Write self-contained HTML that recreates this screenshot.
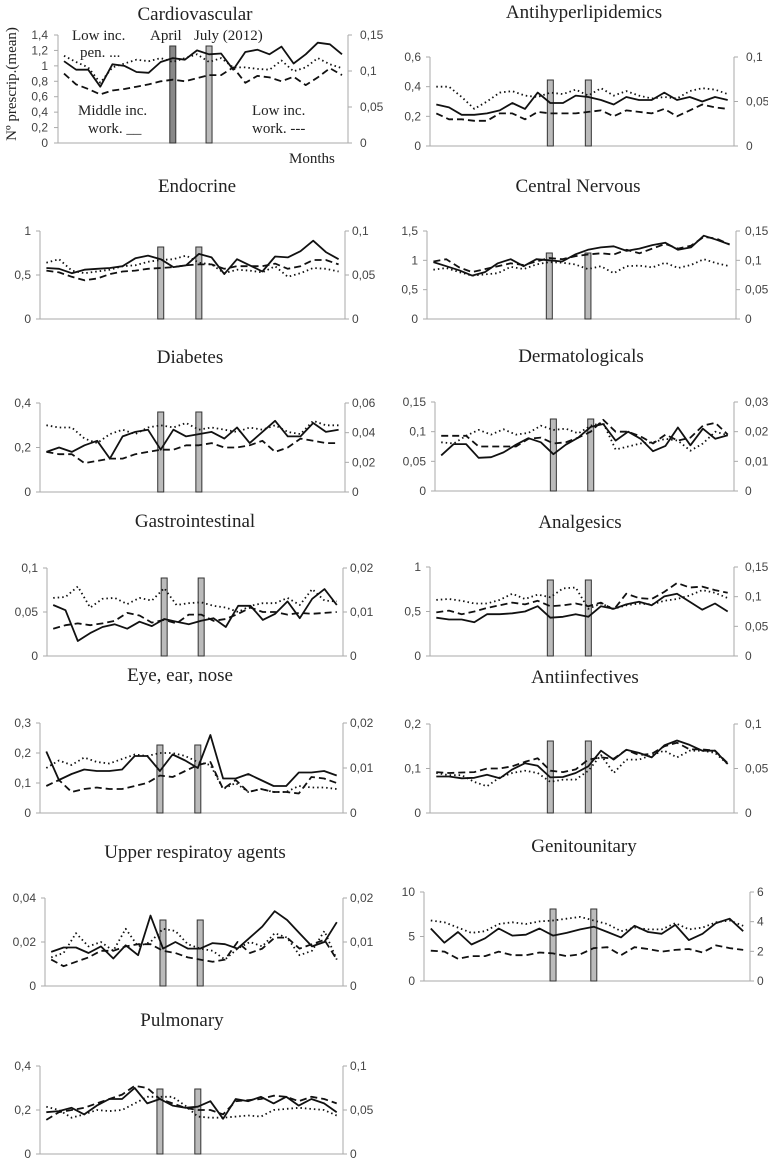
<!DOCTYPE html>
<html><head><meta charset="utf-8"><style>
html,body{margin:0;padding:0;background:#fff;}
svg{display:block;}
.t{font-family:"Liberation Serif",serif;font-size:19px;fill:#222;}
.tk{font-family:"Liberation Sans",sans-serif;font-size:12px;fill:#444;}
.an{font-family:"Liberation Serif",serif;font-size:15px;fill:#222;}
</style></head><body>
<svg id="c" width="768" height="1166" viewBox="0 0 768 1166" xmlns="http://www.w3.org/2000/svg">
<text class="an" x="72" y="40">Low inc.</text>
<text class="an" x="80" y="57">pen. ...</text>
<text class="an" x="150" y="40">April</text>
<text class="an" x="194" y="40">July (2012)</text>
<text class="an" x="78" y="115">Middle inc.</text>
<text class="an" x="88" y="133">work. __</text>
<text class="an" x="252" y="115">Low inc.</text>
<text class="an" x="252" y="133">work. ---</text>
<text class="an" x="289" y="163">Months</text>
<text class="an" transform="translate(16,84) rotate(-90)" text-anchor="middle">Nº prescrip.(mean)</text>
</svg>
<script>
// Values (all series in left-axis units), 24 months each
const cardioSolid=[1.06,0.95,0.95,0.73,1.02,1.0,0.92,0.91,1.05,1.1,1.08,1.2,1.15,1.16,0.95,1.18,1.21,1.15,1.25,1.03,1.15,1.3,1.28,1.15];
const cardioDotted=[1.13,1.05,0.98,0.78,0.98,1.03,1.08,1.06,1.1,1.05,1.1,1.15,1.05,1.1,0.98,0.98,0.96,0.95,1.07,0.93,0.98,1.1,1.02,0.97];
const cardioDashed=[0.9,0.76,0.7,0.63,0.68,0.7,0.73,0.76,0.8,0.82,0.8,0.84,0.88,0.88,0.98,0.78,0.87,0.85,0.8,0.86,0.75,0.85,0.97,0.88];
const lipSolid=[0.28,0.26,0.21,0.21,0.22,0.24,0.29,0.25,0.36,0.29,0.29,0.34,0.33,0.31,0.28,0.33,0.31,0.31,0.36,0.31,0.33,0.30,0.33,0.31];
const lipDotted=[0.40,0.40,0.33,0.25,0.30,0.36,0.37,0.34,0.33,0.36,0.35,0.38,0.34,0.39,0.34,0.37,0.34,0.32,0.33,0.32,0.37,0.39,0.38,0.35];
const lipDashed=[0.22,0.18,0.18,0.17,0.17,0.22,0.22,0.18,0.23,0.22,0.22,0.22,0.23,0.24,0.20,0.24,0.23,0.22,0.25,0.20,0.24,0.28,0.26,0.25];
const endoSolid=[0.58,0.57,0.52,0.56,0.57,0.58,0.6,0.69,0.72,0.68,0.59,0.61,0.74,0.70,0.51,0.68,0.61,0.54,0.71,0.70,0.77,0.89,0.76,0.68];
const endoDotted=[0.64,0.68,0.55,0.52,0.54,0.56,0.60,0.61,0.65,0.67,0.68,0.72,0.64,0.62,0.52,0.56,0.55,0.53,0.60,0.48,0.52,0.58,0.57,0.54];
const endoDashed=[0.55,0.53,0.48,0.44,0.46,0.51,0.54,0.55,0.57,0.58,0.59,0.61,0.62,0.62,0.57,0.60,0.60,0.60,0.63,0.57,0.60,0.67,0.67,0.62];
const cnsSolid=[0.97,0.9,0.83,0.74,0.80,0.95,1.02,0.90,1.02,1.0,0.98,1.1,1.18,1.22,1.24,1.16,1.2,1.26,1.3,1.18,1.22,1.42,1.35,1.27];
const cnsDotted=[0.84,0.87,0.80,0.74,0.76,0.78,0.89,0.85,0.93,0.97,0.96,0.93,0.85,0.90,0.78,0.90,0.91,0.88,0.96,0.87,0.92,1.02,0.95,0.90];
const cnsDashed=[0.98,1.02,0.88,0.80,0.85,0.90,0.95,0.92,0.98,1.04,1.02,1.07,1.10,1.12,1.10,1.18,1.12,1.20,1.28,1.20,1.25,1.40,1.37,1.27];
const diabSolid=[0.18,0.20,0.18,0.21,0.23,0.15,0.25,0.27,0.28,0.19,0.28,0.25,0.26,0.27,0.24,0.29,0.22,0.27,0.32,0.25,0.25,0.31,0.27,0.28];
const diabDotted=[0.30,0.29,0.29,0.24,0.22,0.26,0.28,0.26,0.29,0.30,0.29,0.31,0.28,0.29,0.28,0.27,0.29,0.28,0.30,0.27,0.26,0.32,0.30,0.30];
const diabDashed=[0.18,0.17,0.17,0.13,0.14,0.15,0.15,0.17,0.18,0.19,0.19,0.21,0.21,0.22,0.20,0.20,0.21,0.23,0.18,0.20,0.24,0.23,0.22,0.22];
const dermSolid=[0.06,0.079,0.079,0.056,0.057,0.065,0.078,0.089,0.082,0.062,0.078,0.09,0.108,0.113,0.085,0.10,0.088,0.067,0.076,0.107,0.077,0.105,0.088,0.094];
const dermDotted=[0.082,0.08,0.093,0.103,0.095,0.104,0.095,0.098,0.11,0.103,0.105,0.097,0.11,0.115,0.07,0.075,0.08,0.082,0.088,0.085,0.068,0.08,0.10,0.094];
const dermDashed=[0.093,0.093,0.093,0.075,0.075,0.075,0.075,0.088,0.09,0.08,0.082,0.09,0.10,0.12,0.10,0.10,0.092,0.08,0.095,0.085,0.09,0.11,0.115,0.095];
const gastSolid=[0.058,0.052,0.017,0.026,0.033,0.036,0.031,0.039,0.034,0.042,0.039,0.036,0.040,0.043,0.033,0.057,0.057,0.041,0.048,0.062,0.043,0.065,0.076,0.058];
const gastDotted=[0.066,0.067,0.079,0.055,0.065,0.066,0.059,0.066,0.063,0.077,0.058,0.060,0.061,0.057,0.055,0.050,0.057,0.060,0.060,0.066,0.058,0.076,0.063,0.062];
const gastDashed=[0.031,0.035,0.037,0.035,0.037,0.040,0.049,0.046,0.038,0.041,0.037,0.047,0.047,0.040,0.042,0.048,0.055,0.050,0.050,0.047,0.049,0.048,0.049,0.050];
const analSolid=[0.43,0.41,0.41,0.38,0.47,0.47,0.48,0.50,0.56,0.43,0.44,0.47,0.44,0.56,0.53,0.58,0.61,0.57,0.67,0.70,0.61,0.52,0.59,0.50];
const analDotted=[0.63,0.64,0.62,0.59,0.59,0.63,0.70,0.64,0.69,0.66,0.76,0.77,0.53,0.59,0.53,0.57,0.59,0.58,0.62,0.64,0.68,0.74,0.71,0.65];
const analDashed=[0.49,0.51,0.47,0.50,0.54,0.57,0.60,0.58,0.62,0.56,0.57,0.59,0.56,0.60,0.52,0.70,0.65,0.64,0.72,0.82,0.77,0.78,0.74,0.71];
const eyeSolid=[0.205,0.11,0.13,0.145,0.14,0.14,0.145,0.19,0.19,0.14,0.195,0.175,0.15,0.26,0.115,0.115,0.13,0.11,0.09,0.09,0.135,0.135,0.14,0.125];
const eyeDotted=[0.15,0.175,0.16,0.185,0.17,0.165,0.18,0.195,0.19,0.2,0.2,0.19,0.17,0.16,0.08,0.1,0.07,0.08,0.07,0.07,0.09,0.085,0.085,0.08];
const eyeDashed=[0.09,0.11,0.07,0.08,0.085,0.08,0.08,0.09,0.10,0.125,0.12,0.14,0.16,0.17,0.08,0.11,0.07,0.08,0.07,0.07,0.065,0.12,0.115,0.10];
const infSolid=[0.082,0.082,0.078,0.079,0.086,0.078,0.098,0.112,0.106,0.08,0.081,0.09,0.105,0.14,0.12,0.142,0.135,0.125,0.152,0.163,0.153,0.14,0.14,0.11];
const infDotted=[0.09,0.085,0.085,0.07,0.06,0.08,0.09,0.095,0.09,0.07,0.075,0.075,0.095,0.13,0.09,0.12,0.12,0.13,0.14,0.125,0.14,0.14,0.135,0.11];
const infDashed=[0.092,0.09,0.091,0.092,0.1,0.1,0.105,0.115,0.123,0.095,0.092,0.098,0.12,0.125,0.122,0.142,0.13,0.133,0.15,0.158,0.143,0.143,0.14,0.112];
const urSolid=[0.0155,0.0175,0.0175,0.0150,0.018,0.0125,0.0185,0.014,0.032,0.017,0.020,0.017,0.017,0.0195,0.019,0.017,0.022,0.027,0.034,0.030,0.024,0.018,0.020,0.029];
const urDotted=[0.013,0.015,0.024,0.018,0.02,0.016,0.026,0.018,0.02,0.026,0.025,0.019,0.017,0.016,0.012,0.017,0.02,0.018,0.024,0.022,0.014,0.016,0.025,0.012];
const urDashed=[0.012,0.009,0.011,0.013,0.016,0.016,0.018,0.019,0.019,0.016,0.015,0.013,0.012,0.011,0.012,0.020,0.015,0.017,0.022,0.022,0.017,0.019,0.021,0.012];
const genSolid=[5.9,4.3,5.5,4.1,4.8,5.9,5.1,5.2,5.9,5.1,5.4,5.8,6.1,5.5,4.9,6.2,5.5,5.3,6.3,4.6,5.3,6.5,7.0,5.6];
const genDotted=[6.8,6.6,6.0,5.4,5.6,6.4,6.6,6.4,6.7,6.8,7.0,7.2,6.8,6.4,5.6,6.0,5.8,5.8,6.5,5.8,6.0,6.6,6.8,6.2];
const genDashed=[3.4,3.3,2.5,2.8,2.8,3.3,2.9,2.9,3.2,3.1,2.8,3.0,3.7,3.8,2.9,3.8,3.6,3.3,3.5,3.6,3.2,4.0,3.7,3.5];
const pulSolid=[0.19,0.195,0.21,0.18,0.22,0.25,0.25,0.30,0.23,0.25,0.22,0.21,0.215,0.24,0.16,0.25,0.24,0.26,0.23,0.26,0.22,0.25,0.23,0.19];
const pulDotted=[0.215,0.20,0.165,0.18,0.2,0.195,0.20,0.23,0.26,0.26,0.26,0.22,0.17,0.165,0.165,0.17,0.175,0.17,0.2,0.205,0.21,0.205,0.2,0.175];
const pulDashed=[0.155,0.19,0.20,0.21,0.23,0.25,0.27,0.31,0.30,0.25,0.23,0.21,0.20,0.20,0.18,0.24,0.245,0.25,0.265,0.26,0.24,0.26,0.25,0.23];
// Tick labels
const cardioLeftTicks=[0,0.2,0.4,0.6,0.8,1,1.2,1.4]; const cardioRightTicks=[0,0.05,0.1,0.15];
const lipLeftTicks=[0,0.2,0.4,0.6]; const lipRightTicks=[0,0.05,0.1];
const endoLeftTicks=[0,0.5,1]; const endoRightTicks=[0,0.05,0.1];
const cnsLeftTicks=[0,0.5,1,1.5]; const cnsRightTicks=[0,0.05,0.1,0.15];
const diabLeftTicks=[0,0.2,0.4]; const diabRightTicks=[0,0.02,0.04,0.06];
const dermLeftTicks=[0,0.05,0.1,0.15]; const dermRightTicks=[0,0.01,0.02,0.03];
const gastLeftTicks=[0,0.05,0.1]; const gastRightTicks=[0,0.01,0.02];
const analLeftTicks=[0,0.5,1]; const analRightTicks=[0,0.05,0.1,0.15];
const eyeLeftTicks=[0,0.1,0.2,0.3]; const eyeRightTicks=[0,0.01,0.02];
const infLeftTicks=[0,0.1,0.2]; const infRightTicks=[0,0.05,0.1];
const urLeftTicks=[0,0.02,0.04]; const urRightTicks=[0,0.01,0.02];
const genLeftTicks=[0,5,10]; const genRightTicks=[0,2,4,6];
const pulLeftTicks=[0,0.2,0.4]; const pulRightTicks=[0,0.05,0.1];
// Policy months (April, July 2012) as month indices
const eventMonths=[9,12];

const NS="http://www.w3.org/2000/svg";
const svg=document.getElementById('c');
function mk(tag,attrs,parent){const e=document.createElementNS(NS,tag);for(const k in attrs)e.setAttribute(k,attrs[k]);(parent||svg).appendChild(e);return e;}
function fmt(v){return String(v).replace('.',',');}

const panels=[
 {key:'cardiovascular',title:'Cardiovascular',tx:195,ty:20,x0:58,x1:348,yT:35,yB:143,lx:48,rx:360,barTop:46,s:cardioSolid,d:cardioDotted,h:cardioDashed,lt:cardioLeftTicks,rt:cardioRightTicks,dark:true},
 {key:'antihyperlipidemics',title:'Antihyperlipidemics',tx:584,ty:18,x0:430,x1:734,yT:57,yB:146,lx:421,rx:746,barTop:80,s:lipSolid,d:lipDotted,h:lipDashed,lt:lipLeftTicks,rt:lipRightTicks},
 {key:'endocrine',title:'Endocrine',tx:197,ty:192,x0:40,x1:345,yT:231,yB:319,lx:31,rx:352,barTop:247,s:endoSolid,d:endoDotted,h:endoDashed,lt:endoLeftTicks,rt:endoRightTicks},
 {key:'central-nervous',title:'Central Nervous',tx:578,ty:192,x0:427,x1:736,yT:231,yB:319,lx:418,rx:745,barTop:253,s:cnsSolid,d:cnsDotted,h:cnsDashed,lt:cnsLeftTicks,rt:cnsRightTicks},
 {key:'diabetes',title:'Diabetes',tx:190,ty:363,x0:40,x1:345,yT:403,yB:492,lx:31,rx:352,barTop:412,s:diabSolid,d:diabDotted,h:diabDashed,lt:diabLeftTicks,rt:diabRightTicks},
 {key:'dermatologicals',title:'Dermatologicals',tx:581,ty:362,x0:435,x1:734,yT:402,yB:491,lx:426,rx:745,barTop:419,s:dermSolid,d:dermDotted,h:dermDashed,lt:dermLeftTicks,rt:dermRightTicks},
 {key:'gastrointestinal',title:'Gastrointestinal',tx:195,ty:527,x0:47,x1:343,yT:568,yB:656,lx:38,rx:350,barTop:578,s:gastSolid,d:gastDotted,h:gastDashed,lt:gastLeftTicks,rt:gastRightTicks},
 {key:'analgesics',title:'Analgesics',tx:580,ty:528,x0:430,x1:734,yT:567,yB:656,lx:421,rx:745,barTop:580,s:analSolid,d:analDotted,h:analDashed,lt:analLeftTicks,rt:analRightTicks},
 {key:'eye-ear-nose',title:'Eye, ear, nose',tx:180,ty:681,x0:40,x1:343,yT:723,yB:813,lx:31,rx:350,barTop:745,s:eyeSolid,d:eyeDotted,h:eyeDashed,lt:eyeLeftTicks,rt:eyeRightTicks},
 {key:'antiinfectives',title:'Antiinfectives',tx:585,ty:683,x0:430,x1:734,yT:724,yB:813,lx:421,rx:745,barTop:741,s:infSolid,d:infDotted,h:infDashed,lt:infLeftTicks,rt:infRightTicks},
 {key:'upper-respiratory-agents',title:'Upper respiratoy agents',tx:195,ty:858,x0:45,x1:343,yT:898,yB:986,lx:36,rx:350,barTop:920,s:urSolid,d:urDotted,h:urDashed,lt:urLeftTicks,rt:urRightTicks},
 {key:'genitourinary',title:'Genitounitary',tx:584,ty:852,x0:424,x1:750,yT:892,yB:981,lx:415,rx:757,barTop:909,s:genSolid,d:genDotted,h:genDashed,lt:genLeftTicks,rt:genRightTicks},
 {key:'pulmonary',title:'Pulmonary',tx:182,ty:1026,x0:40,x1:343,yT:1066,yB:1154,lx:31,rx:350,barTop:1089,s:pulSolid,d:pulDotted,h:pulDashed,lt:pulLeftTicks,rt:pulRightTicks}
];

panels.forEach(p=>{
  const g=mk('g',{});
  
  
  const n=p.s.length;
  const lmax=p.lt[p.lt.length-1], rmax=p.rt[p.rt.length-1];
  const xS=i=>p.x0+(i+0.5)*(p.x1-p.x0)/n;
  const yL=v=>p.yB-(v/lmax)*(p.yB-p.yT);
  const yR=v=>p.yB-(v/rmax)*(p.yB-p.yT);
  const t=mk('text',{class:'t',x:p.tx,y:p.ty,'text-anchor':'middle'},g); t.textContent=p.title;
  
  
  const ax=mk('path',{d:`M${p.x0},${p.yT}V${p.yB}H${p.x1}M${p.x1},${p.yT}V${p.yB}`,stroke:'#aaa','stroke-width':1,fill:'none'},g);
  
  
  p.lt.forEach(v=>{
    const y=yL(v);
    mk('line',{x1:p.x0-4,x2:p.x0,y1:y,y2:y,stroke:'#aaa'},g);
    const tx=mk('text',{class:'tk',x:p.lx,y:y+4,'text-anchor':'end'},g); tx.textContent=fmt(v);
    
    
  });
  p.rt.forEach(v=>{
    const y=yR(v);
    mk('line',{x1:p.x1,x2:p.x1+4,y1:y,y2:y,stroke:'#aaa'},g);
    const tx=mk('text',{class:'tk',x:p.rx,y:y+4},g); tx.textContent=fmt(v);
    
    
  });
  eventMonths.forEach((m,k)=>{
    const bx=xS(m);
    const b=mk('rect',{x:bx-3,y:p.barTop,width:6,height:p.yB-p.barTop,fill:(p.dark&&k===0)?'#888':'#bbb',stroke:'#333','stroke-width':1},g);
    
    
  });
  const line=(arr,dash,nm)=>{
    const d=arr.map((v,i)=>(i?'L':'M')+xS(i).toFixed(1)+','+yL(v).toFixed(1)).join('');
    const a={d:d,fill:'none',stroke:'#111','stroke-width':1.8,'stroke-linejoin':'round'};
    if(dash)a['stroke-dasharray']=dash;
    const e=mk('path',a,g);
    
    
  };
  line(p.d,'1.5 3','low-inc-pensioners-line');
  line(p.h,'7 4','low-inc-workers-line');
  line(p.s,null,'middle-inc-workers-line');
});
</script>
</body></html>
